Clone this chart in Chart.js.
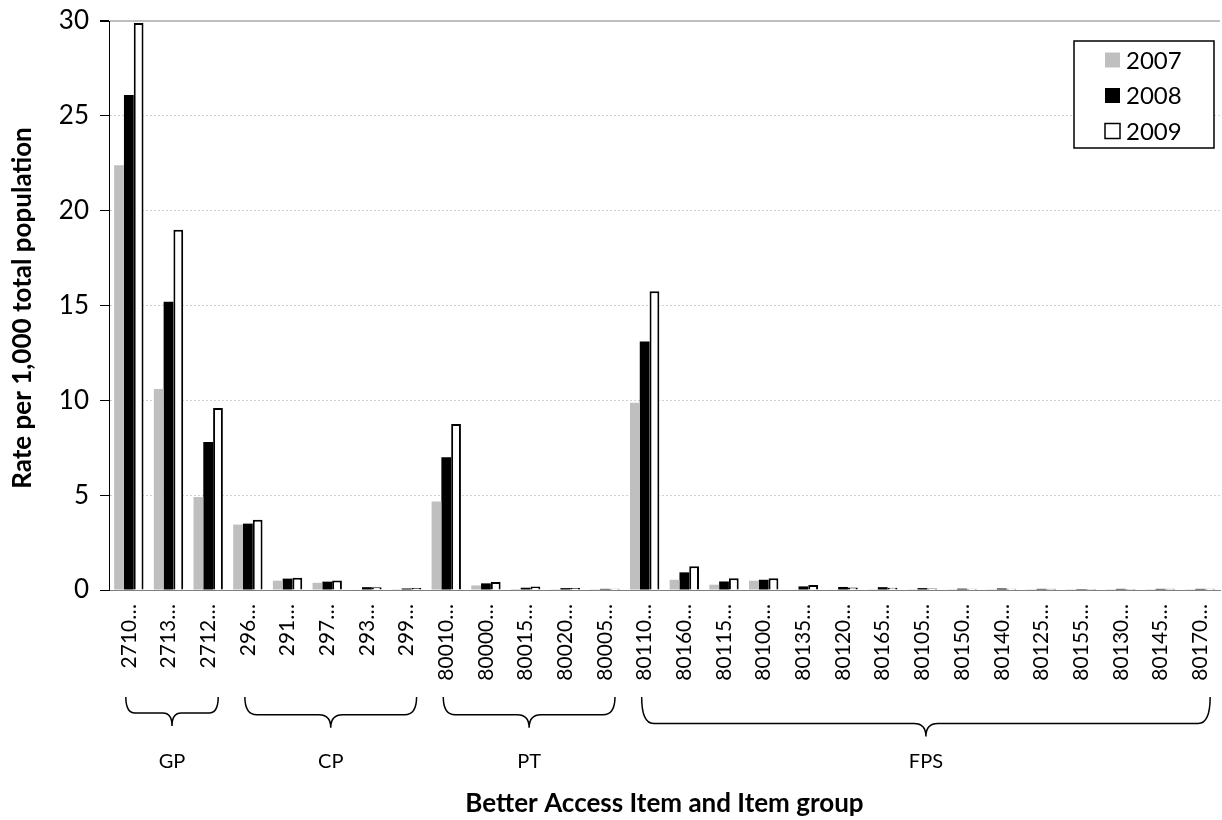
<!DOCTYPE html>
<html>
<head>
<meta charset="utf-8">
<script src="https://cdn.jsdelivr.net/npm/chart.js@4/dist/chart.umd.min.js"></script>
<style>
  html, body { margin: 0; padding: 0; background: #ffffff; }
  #wrap { width: 1222px; height: 820px; }
</style>
</head>
<body>
<div id="wrap"><canvas id="c" width="1222" height="820"></canvas></div>
<script>
// Better Access items (tick labels as shown, truncated)
const items = ['2710…','2713…','2712…','296…','291…','297…','293…','299…',
  '80010…','80000…','80015…','80020…','80005…',
  '80110…','80160…','80115…','80100…','80135…','80120…','80165…','80105…',
  '80150…','80140…','80125…','80155…','80130…','80145…','80170…'];

// Rate per 1,000 total population, by year
const rate2007 = [22.4, 10.6, 4.9, 3.45, 0.49, 0.38, 0.03, 0.01,
  4.66, 0.24, 0.05, 0.01, 0.01,
  9.87, 0.54, 0.28, 0.49, 0.03, 0.02, 0.01, 0.01, 0.01, 0.01, 0.01, 0.01, 0.01, 0.01, 0.01];
const rate2008 = [26.1, 15.2, 7.8, 3.5, 0.6, 0.44, 0.15, 0.08,
  7.0, 0.35, 0.12, 0.1, 0.06,
  13.1, 0.93, 0.45, 0.54, 0.19, 0.16, 0.15, 0.1, 0.07, 0.08, 0.06, 0.05, 0.06, 0.06, 0.06];
const rate2009 = [29.9, 19.0, 9.6, 3.7, 0.65, 0.5, 0.15, 0.1,
  8.75, 0.42, 0.18, 0.1, 0.07,
  15.75, 1.25, 0.62, 0.62, 0.26, 0.13, 0.12, 0.08, 0.07, 0.07, 0.06, 0.05, 0.05, 0.06, 0.07];

const years = ['2007', '2008', '2009'];

// Item groups: name, first item index, last item index
const groupNames = ['GP', 'CP', 'PT', 'FPS'];
const groupFirst = [0, 3, 8, 13];
const groupLast = [2, 7, 12, 27];

const yTicks = [0, 5, 10, 15, 20, 25, 30];

const FONT = 'Lato, "Open Sans", sans-serif';

// Curly braces, group names and the axis titles
const groupBraces = {
  id: 'groupBraces',
  afterDraw(chart) {
    const ctx = chart.ctx;
    const x = chart.scales.x;
    ctx.save();
    ctx.strokeStyle = '#000';
    ctx.lineWidth = 1.5;
    ctx.fillStyle = '#000';
    for (let g = 0; g < groupNames.length; g++) {
      const x0 = x.getPixelForValue(groupFirst[g]) - 3;
      const x1 = x.getPixelForValue(groupLast[g]) + 10;
      const w = x1 - x0;
      const top = 697;
      const depth = 14 + w * 0.022;
      const mid = top + depth;
      const tip = mid + 13;
      const xm = (x0 + x1) / 2;
      const r = Math.min(12, w * 0.1);
      ctx.beginPath();
      ctx.moveTo(x0, top);
      ctx.quadraticCurveTo(x0, mid, x0 + r, mid);
      ctx.lineTo(xm - r, mid);
      ctx.quadraticCurveTo(xm, mid, xm, tip);
      ctx.quadraticCurveTo(xm, mid, xm + r, mid);
      ctx.lineTo(x1 - r, mid);
      ctx.quadraticCurveTo(x1, mid, x1, top);
      ctx.stroke();
      ctx.font = '20px ' + FONT;
      ctx.textAlign = 'center';
      ctx.textBaseline = 'middle';
      ctx.fillText(groupNames[g], xm, 762);
    }
    const area = chart.chartArea;
    ctx.font = 'bold 26px ' + FONT;
    ctx.textAlign = 'center';
    ctx.textBaseline = 'middle';
    ctx.fillText('Better Access Item and Item group', (area.left + area.right) / 2, 804);
    ctx.translate(23, 308);
    ctx.rotate(-Math.PI / 2);
    ctx.fillText('Rate per 1,000 total population', 0, 0);
    ctx.restore();
  }
};

// Boxed legend in the upper right of the plot
const boxLegend = {
  id: 'boxLegend',
  afterDraw(chart) {
    const ctx = chart.ctx;
    const left = 1074, top = 41, w = 140, h = 107;
    ctx.save();
    ctx.fillStyle = '#fff';
    ctx.fillRect(left, top, w, h);
    ctx.strokeStyle = '#000';
    ctx.lineWidth = 1.5;
    ctx.strokeRect(left, top, w, h);
    ctx.font = '24px ' + FONT;
    ctx.textBaseline = 'middle';
    ctx.textAlign = 'left';
    chart.data.datasets.forEach((ds, i) => {
      const cy = top + 19 + i * 35.5;
      const s = 15;
      ctx.fillStyle = ds.backgroundColor;
      ctx.fillRect(1105, cy - s / 2, s, s);
      if (ds.borderWidth) {
        ctx.strokeStyle = ds.borderColor;
        ctx.lineWidth = 1.5;
        ctx.strokeRect(1105, cy - s / 2, s, s);
      }
      ctx.fillStyle = '#000';
      ctx.fillText(ds.label, 1126, cy + 1);
    });
    ctx.restore();
  }
};

new Chart(document.getElementById('c'), {
  type: 'bar',
  data: {
    labels: items,
    datasets: [
      { label: years[0], data: rate2007, backgroundColor: '#bfbfbf', borderWidth: 0 },
      { label: years[1], data: rate2008, backgroundColor: '#000000', borderWidth: 0 },
      { label: years[2], data: rate2009, backgroundColor: '#ffffff', borderColor: '#000000', borderWidth: 2 }
    ]
  },
  options: {
    responsive: false,
    animation: false,
    devicePixelRatio: 1,
    categoryPercentage: 0.74,
    barPercentage: 1.0,
    layout: { padding: { top: 21, right: 2, left: 0, bottom: 0 } },
    plugins: {
      legend: { display: false },
      tooltip: { enabled: false }
    },
    scales: {
      x: {
        grid: { display: false },
        border: { display: true, color: '#7f7f7f', width: 1 },
        ticks: {
          autoSkip: false,
          minRotation: 90,
          maxRotation: 90,
          padding: 6,
          color: '#000',
          font: { family: FONT, size: 21 }
        },
        afterFit(scale) {
          scale.height = 230;
          scale.paddingLeft = 0;
          scale.paddingRight = 0;
        }
      },
      y: {
        min: 0,
        max: 30,
        afterBuildTicks(scale) { scale.ticks = yTicks.map(v => ({ value: v })); },
        grid: {
          color: c => (c.tick && c.tick.value === 30) ? '#bfbfbf' : '#d0d0d0',
          lineWidth: c => (c.tick && c.tick.value === 30) ? 2 : 1,
          tickColor: '#000',
          tickLength: 9,
          tickBorderDash: []
        },
        border: {
          display: true,
          color: '#000',
          width: 1,
          dash: c => (c.tick && c.tick.value === 30) ? [] : [2, 2]
        },
        ticks: {
          padding: 11,
          color: '#000',
          font: { family: FONT, size: 26 }
        },
        afterFit(scale) {
          scale.width = 109;
          scale.paddingTop = 0;
          scale.paddingBottom = 0;
        }
      }
    }
  },
  plugins: [groupBraces, boxLegend]
});
</script>
</body>
</html>
